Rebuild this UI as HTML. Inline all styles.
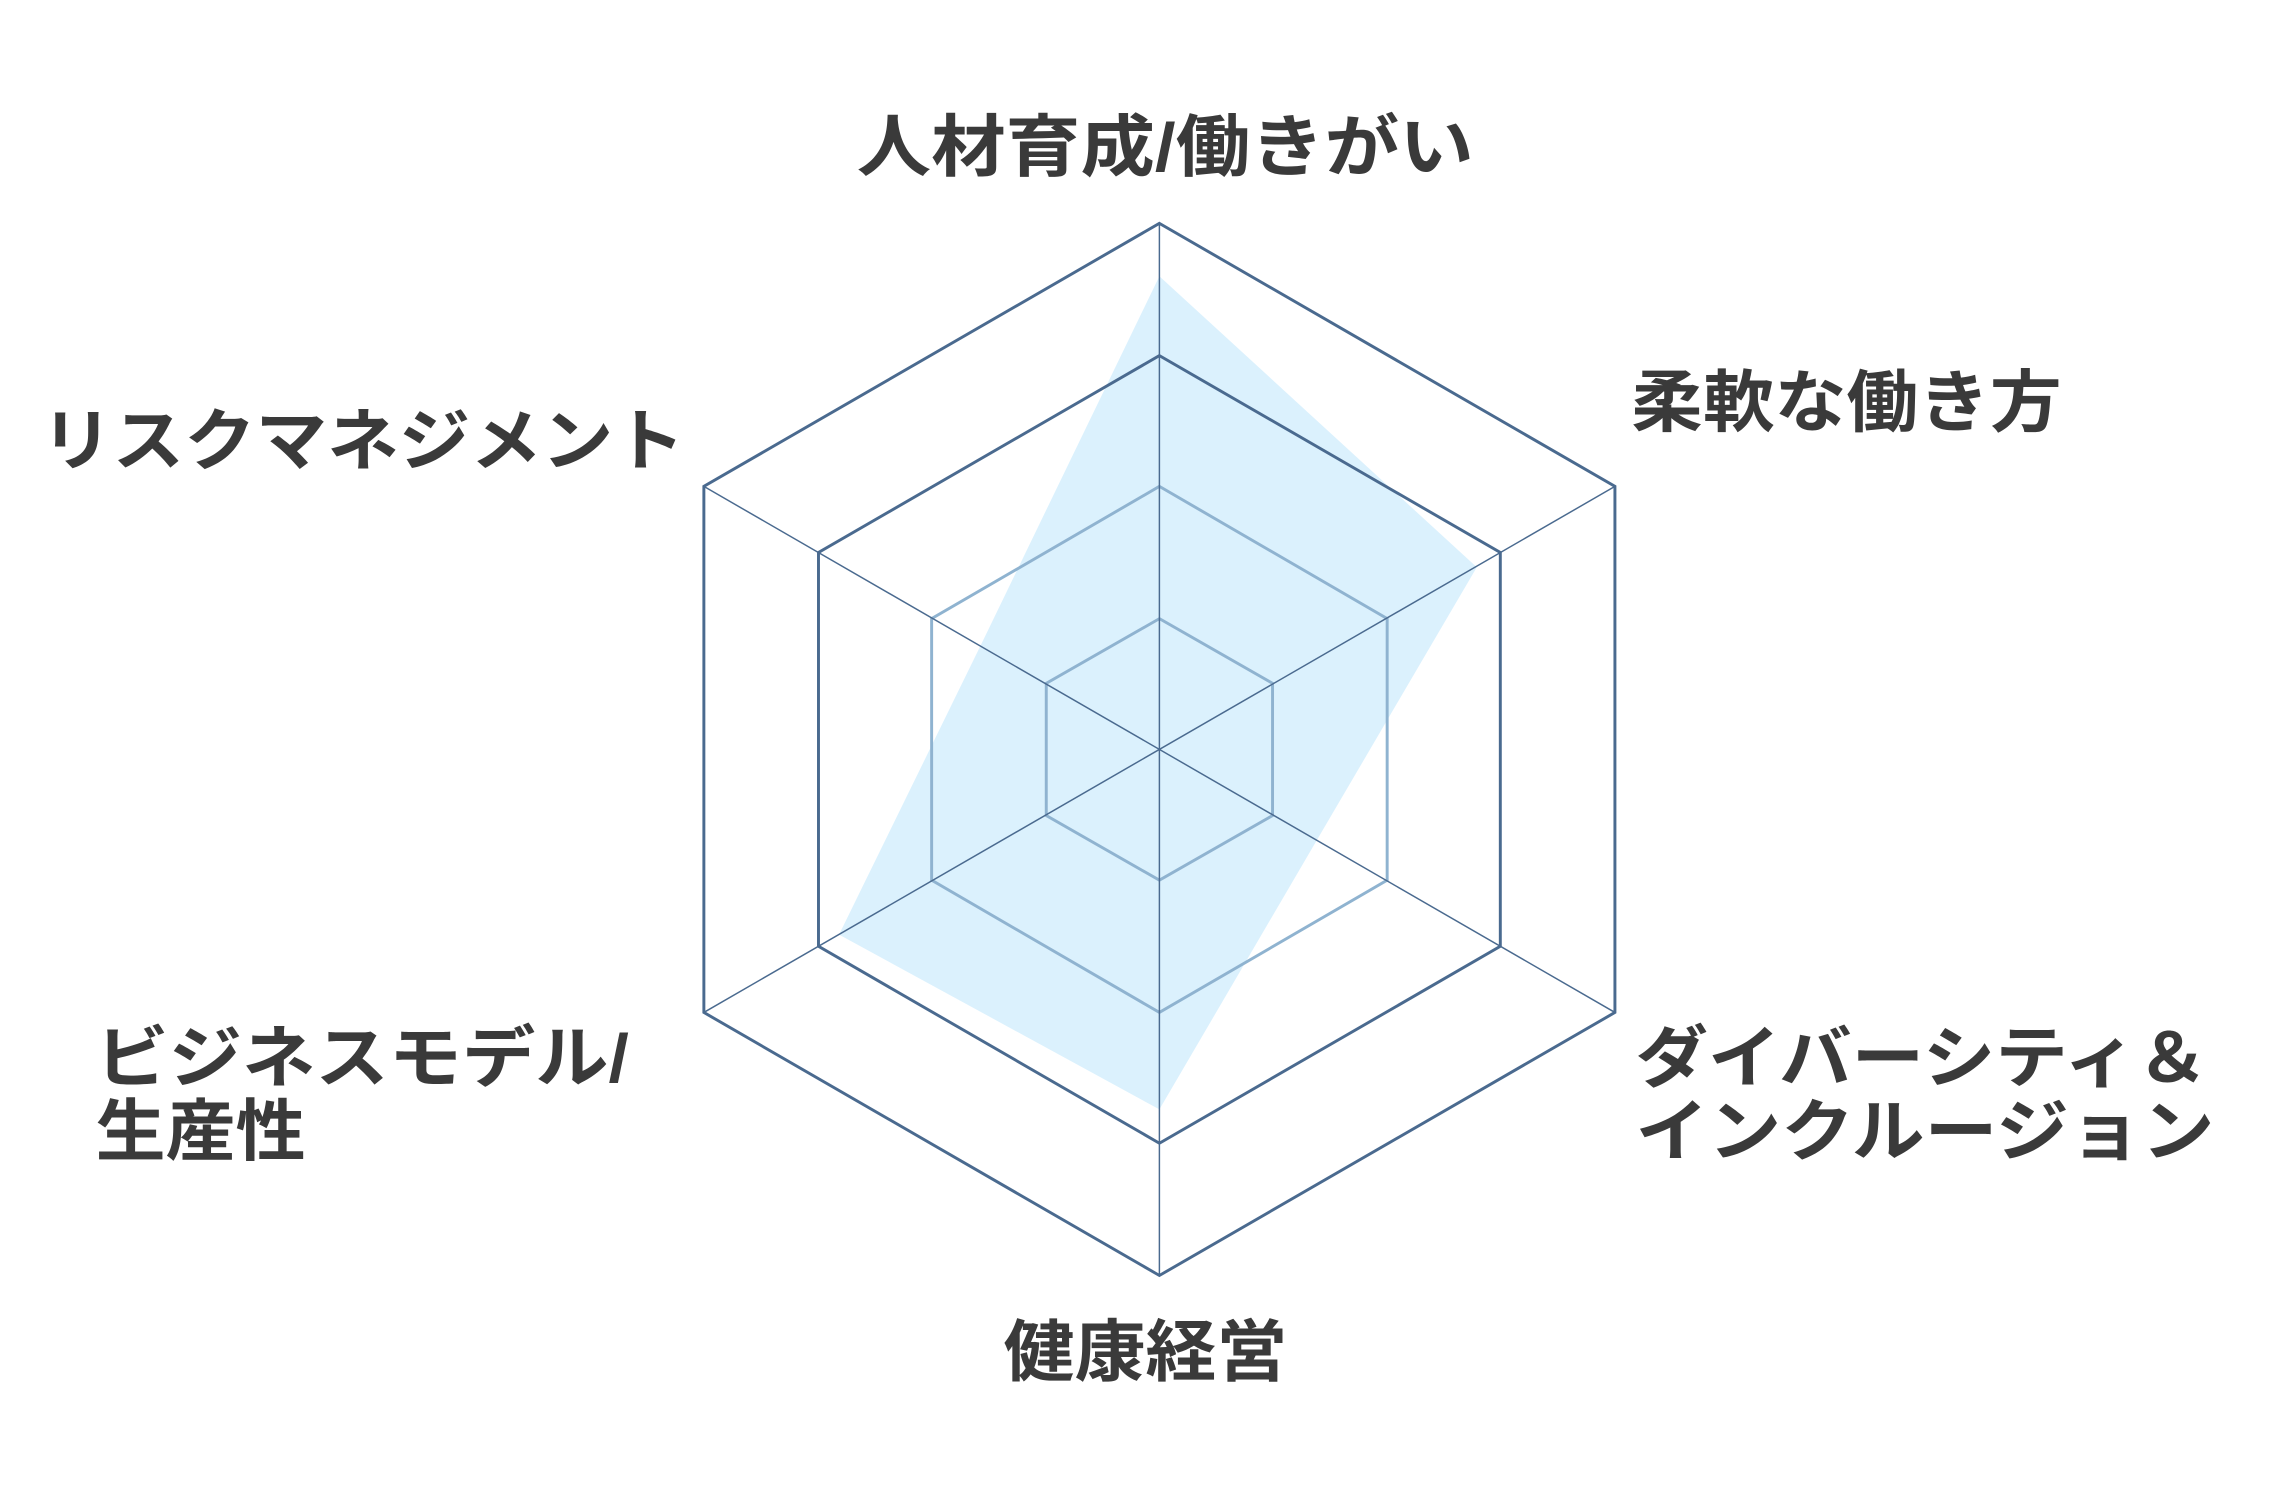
<!DOCTYPE html>
<html><head><meta charset="utf-8"><style>html,body{margin:0;padding:0;background:#fff;}svg{display:block}</style></head>
<body>
<svg width="2285" height="1510" viewBox="0 0 1555 1027.6" xmlns="http://www.w3.org/2000/svg">
<polygon points="789,188 1005,386 896,572 789,755 571,636 667,440" fill="#dbf1fd"/>
<g fill="none">
<polygon points="789,152 1099,331 1099,689 789,868 479,689 479,331" stroke="#4a6a8f" stroke-width="2"/>
<polygon points="789,242 1021,376 1021,644 789,778 557,644 557,376" stroke="#4a6a8f" stroke-width="2"/>
<polygon points="789,331 944,421 944,599 789,689 634,599 634,421" stroke="#8fb3d0" stroke-width="2"/>
<polygon points="789,421 866,465 866,555 789,599 712,555 712,465" stroke="#8fb3d0" stroke-width="2"/>
<g stroke="#4a6a8f" stroke-width="1">
<line x1="789" y1="152" x2="789" y2="868"/>
<line x1="479" y1="331" x2="1099" y2="689"/>
<line x1="1099" y1="331" x2="479" y2="689"/>
</g>
</g>
<g font-family="'Liberation Sans','Noto Sans CJK JP',sans-serif" font-weight="bold" font-size="46" fill="#3a3a3a">
<text x="583" y="116" textLength="420" lengthAdjust="spacingAndGlyphs">人材育成/働きがい</text>
<text x="28" y="316" textLength="438" lengthAdjust="spacingAndGlyphs">リスクマネジメント</text>
<text x="1110" y="290" textLength="293" lengthAdjust="spacingAndGlyphs">柔軟な働き方</text>
<text x="65" y="736" textLength="363" lengthAdjust="spacingAndGlyphs">ビジネスモデル/</text>
<text x="65" y="786" textLength="143" lengthAdjust="spacingAndGlyphs">生産性</text>
<text x="1113" y="736" textLength="390" lengthAdjust="spacingAndGlyphs">ダイバーシティ＆</text>
<text x="1113" y="786" textLength="394" lengthAdjust="spacingAndGlyphs">インクルージョン</text>
<text x="683" y="936" textLength="193" lengthAdjust="spacingAndGlyphs">健康経営</text>
</g>
</svg>
</body></html>
